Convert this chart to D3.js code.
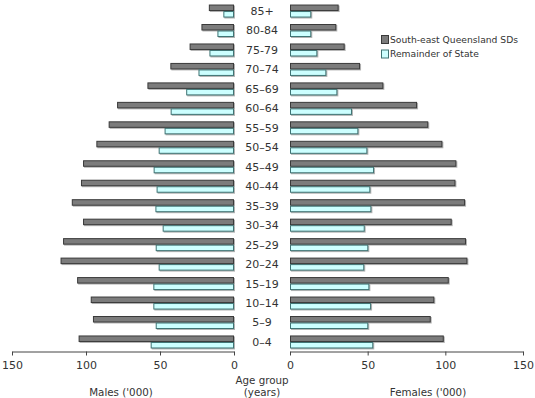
<!DOCTYPE html>
<html>
<head>
<meta charset="utf-8">
<script src="https://cdn.jsdelivr.net/npm/d3@7"></script>
<style>
    body { margin: 0; background: #fff; }
    svg { display: block; }
    text { font-family: "DejaVu Sans", Verdana, sans-serif; fill: #333; }
</style>
</head>
<body>
<div id="chart"></div>
<script>
// age groups, top to bottom
const ageGroups = ['85+', '80-84', '75-79', '70–74', '65–69', '60–64', '55–59', '50–54', '45–49',
    '40–44', '35–39', '30–34', '25–29', '20–24', '15–19', '10–14', '5–9', '0–4'];

const seriesNames = ['South-east Queensland SDs', 'Remainder of State'];

// males ('000)
const malesSEQ = [17, 22, 30, 43, 58.5, 79, 84.7, 93, 102, 103.4, 109.6, 102, 115.5, 117.2, 106, 96.8, 95.3, 105];
const malesRest = [7.2, 11.2, 16.6, 24, 32.3, 42.8, 46.9, 50.9, 54.3, 52.3, 53.1, 48.2, 52.9, 50.9, 54.5, 54.5, 52.9, 56.3];

// females ('000)
const femalesSEQ = [31.3, 29.8, 35.2, 45.1, 60.1, 81.8, 89, 98.1, 107.1, 106.5, 112.7, 104.1, 113.3, 114.2, 102.2, 92.9, 90.6, 99];
const femalesRest = [13.7, 13.7, 17.6, 23.4, 30.5, 39.9, 44, 49.8, 54.1, 51.7, 52.4, 48.1, 50.4, 47.8, 51.1, 52.2, 50.4, 53.6];

const xTicks = [0, 50, 100, 150];

const width = 535;
const height = 398;
const colors = { fill: ['#7c7c7c', '#ccffff'], stroke: ['#3a3a3a', '#3f7474'] };

const svg = d3.select('#chart').append('svg')
    .attr('width', width)
    .attr('height', height);

const y = d3.scaleBand().domain(ageGroups).range([1.3, 351.7]);
const ySub = d3.scaleBand().domain(seriesNames)
    .range([y.bandwidth() / 2 - 6.5, y.bandwidth() / 2 + 6.5]);

const xLeft = d3.scaleLinear().domain([0, 150]).range([234, 12]);
const xRight = d3.scaleLinear().domain([0, 150]).range([290, 523]);

const rows = ageGroups.map((g, i) => ({
    group: g,
    left: [malesSEQ[i], malesRest[i]],
    right: [femalesSEQ[i], femalesRest[i]]
}));

function drawSide(scale, key) {
    const g = svg.append('g');
    rows.forEach(row => {
        row[key].forEach((v, s) => {
            const x0 = Math.min(scale(0), scale(v));
            const w = Math.abs(scale(v) - scale(0));
            const yy = y(row.group) + ySub(seriesNames[s]);
            // drop shadow
            g.append('rect')
                .attr('x', x0 + 1).attr('y', yy + 1)
                .attr('width', w).attr('height', ySub.bandwidth())
                .attr('fill', '#b4b4b4');
            g.append('rect')
                .attr('x', x0 + 0.5).attr('y', yy + 0.5)
                .attr('width', Math.max(0, w - 1)).attr('height', ySub.bandwidth() - 1)
                .attr('fill', colors.fill[s])
                .attr('stroke', colors.stroke[s])
                .attr('stroke-width', 1);
        });
    });

    const axis = svg.append('g')
        .attr('transform', 'translate(0,351.5)')
        .call(d3.axisBottom(scale).tickValues(xTicks).tickSize(4).tickPadding(6).tickSizeOuter(0));
    axis.select('.domain').attr('stroke', '#444');
    axis.selectAll('.tick line').attr('stroke', '#444');
    axis.selectAll('.tick text')
        .style('font-family', '"DejaVu Sans", sans-serif')
        .style('font-size', '11px')
        .attr('fill', '#333');
}

drawSide(xLeft, 'left');
drawSide(xRight, 'right');

// category labels
svg.append('g').selectAll('text')
    .data(ageGroups)
    .join('text')
    .attr('x', 262)
    .attr('y', d => y(d) + y.bandwidth() / 2)
    .attr('dy', '0.36em')
    .attr('text-anchor', 'middle')
    .style('font-size', '11px')
    .text(d => d);

// axis titles
svg.append('text').attr('x', 121).attr('y', 396).attr('text-anchor', 'middle')
    .style('font-size', '10.3px').text("Males ('000)");
svg.append('text').attr('x', 428).attr('y', 396).attr('text-anchor', 'middle')
    .style('font-size', '10.3px').text("Females ('000)");
svg.append('text').attr('x', 262).attr('y', 384).attr('text-anchor', 'middle')
    .style('font-size', '10.3px').text('Age group');
svg.append('text').attr('x', 262).attr('y', 396).attr('text-anchor', 'middle')
    .style('font-size', '10.3px').text('(years)');

// legend
const legend = svg.append('g').attr('transform', 'translate(381,35)');
seriesNames.forEach((name, i) => {
    const item = legend.append('g').attr('transform', `translate(0,${i * 14.5})`);
    item.append('rect')
        .attr('x', 0.5).attr('y', 0.5).attr('width', 7).attr('height', 8)
        .attr('fill', colors.fill[i]).attr('stroke', colors.stroke[i]);
    item.append('text')
        .attr('x', 9).attr('y', 4.5).attr('dy', '0.36em')
        .style('font-size', '9.2px')
        .text(name);
});
</script>
</body>
</html>
